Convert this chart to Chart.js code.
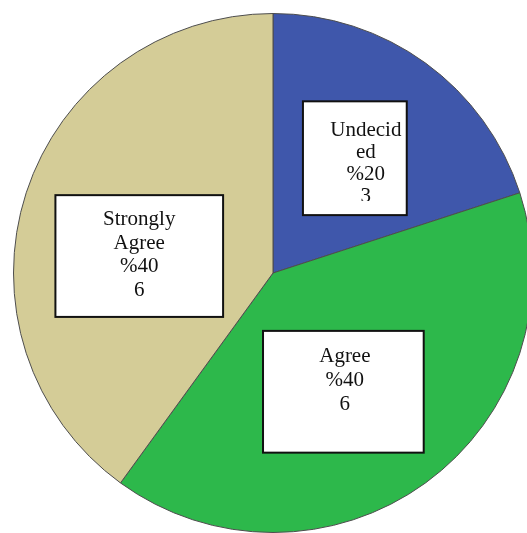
<!DOCTYPE html>
<html>
<head>
    <meta charset="UTF-8">
    <title>Pie</title>
    <style>
        html, body {
            margin: 0;
            padding: 0;
            background: #fff;
            overflow: hidden;
        }
        #pieChart {
            display: block;
        }
    </style>
</head>
<body>
    <canvas id="pieChart" width="546" height="546"></canvas>

    <script src="https://cdn.jsdelivr.net/npm/chart.js"></script>
    <script>
        // dados
        const categories = ['Undecided', 'Agree', 'Strongly Agree'];
        const counts = [3, 6, 6];
        const sliceColors = ['#3f57ab', '#2db84b', '#d4cc97'];

        // caixas dos rótulos: posição relativa ao centro (px para raio 260)
        const boxLeft = [30, -10, -218];
        const boxTop = [-172, 58, -78];
        const boxWidth = [104, 161, 168];
        const boxHeight = [114, 122, 122];
        const textCenter = [63, 82, 84];
        const firstBaseline = [35, 31, 30];
        const lineGap = [22, 24, 23.7];

        function wrapText(ctx, text, maxW) {
            const out = [];
            text.split(' ').forEach(function (word) {
                let cur = '';
                for (const ch of word) {
                    if (ctx.measureText(cur + ch).width > maxW && cur) {
                        out.push(cur);
                        cur = ch;
                    } else {
                        cur += ch;
                    }
                }
                out.push(cur);
            });
            return out;
        }

        const boxLabels = {
            id: 'boxLabels',
            afterDatasetsDraw(chart) {
                const ctx = chart.ctx;
                const meta = chart.getDatasetMeta(0);
                const total = counts.reduce((a, b) => a + b, 0);
                ctx.save();
                ctx.font = '21px "Liberation Serif", "Times New Roman", serif';
                ctx.textAlign = 'center';
                ctx.textBaseline = 'alphabetic';
                meta.data.forEach(function (arc, i) {
                    const s = arc.outerRadius / 260;
                    const x = arc.x + boxLeft[i] * s;
                    const y = arc.y + boxTop[i] * s;
                    const w = boxWidth[i] * s;
                    const h = boxHeight[i] * s;

                    ctx.fillStyle = '#fff';
                    ctx.fillRect(x, y, w, h);
                    ctx.lineWidth = 2;
                    ctx.strokeStyle = '#111';
                    ctx.strokeRect(x, y, w, h);

                    const lines = wrapText(ctx, categories[i], 75);
                    lines.push('%' + Math.round(counts[i] / total * 100));
                    lines.push(String(counts[i]));

                    // o texto fica cortado acima da margem de baixo
                    ctx.save();
                    ctx.beginPath();
                    ctx.rect(x + 2, y + 2, w - 4, h - 16);
                    ctx.clip();
                    ctx.fillStyle = '#111';
                    lines.forEach(function (ln, k) {
                        ctx.fillText(ln, x + textCenter[i] * s, y + (firstBaseline[i] + k * lineGap[i]) * s);
                    });
                    ctx.restore();
                });
                ctx.restore();
            }
        };

        const ctx = document.getElementById('pieChart').getContext('2d');
        new Chart(ctx, {
            type: 'pie',
            data: {
                labels: categories,
                datasets: [{
                    data: counts,
                    backgroundColor: sliceColors,
                    borderColor: '#4d4d4d',
                    borderWidth: 1
                }]
            },
            options: {
                responsive: false,
                animation: false,
                layout: { padding: 13 },
                plugins: {
                    legend: { display: false },
                    tooltip: { enabled: false }
                }
            },
            plugins: [boxLabels]
        });
    </script>
</body>
</html>
